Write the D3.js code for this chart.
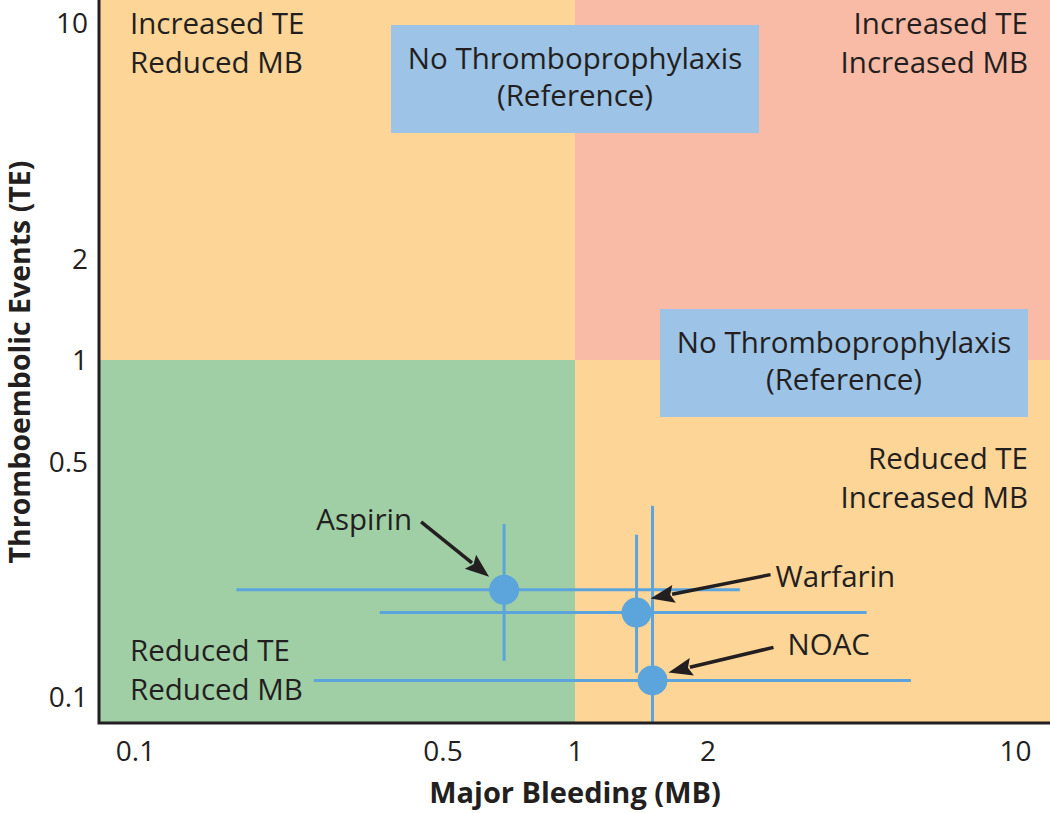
<!DOCTYPE html>
<html>
<head>
<meta charset="utf-8">
<script src="https://cdn.jsdelivr.net/npm/d3@7"></script>
<style>
  html, body { margin: 0; padding: 0; background: #ffffff; }
  svg { display: block; }
  text { font-family: "Open Sans", "Noto Sans", sans-serif; fill: #231f20; }
</style>
</head>
<body>
<div id="chart"></div>
<script>
// ---- data ----
const xTickValues = [0.1, 0.5, 1, 2, 10];
const yTickValues = [0.1, 0.5, 1, 2, 10];
const drugs   = ["Aspirin", "Warfarin", "NOAC"];
const mbEst   = [0.69, 1.38, 1.50];
const mbLow   = [0.17, 0.36, 0.255];
const mbHigh  = [2.37, 4.6, 5.8];
const teEst   = [0.208, 0.178, 0.112];
const teLow   = [0.128, 0.118, 0.07];
const teHigh  = [0.326, 0.303, 0.369];
const quadrantLabels = [
  ["Increased TE", "Reduced MB"],
  ["Increased TE", "Increased MB"],
  ["Reduced TE", "Reduced MB"],
  ["Reduced TE", "Increased MB"]
];
const refLabel = ["No Thromboprophylaxis", "(Reference)"];
const xTitle = "Major Bleeding (MB)";
const yTitle = "Thromboembolic Events (TE)";

// ---- layout ----
const W = 1050, H = 813;
const plot = { left: 99, right: 1050, top: 0, bottom: 723 };

const svg = d3.select("#chart").append("svg")
  .attr("width", W).attr("height", H);

const x = d3.scaleLog().domain([0.1, 10]).range([135, 1015]);
const y = d3.scaleLog().domain([0.1, 10]).range([697, 23]);

const cx = x(1), cy = y(1);

// quadrants
const quads = [
  { x0: plot.left, x1: cx, y0: plot.top, y1: cy, fill: "#fdd597" },
  { x0: cx, x1: plot.right, y0: plot.top, y1: cy, fill: "#f9bba6" },
  { x0: plot.left, x1: cx, y0: cy, y1: plot.bottom, fill: "#a0cfa5" },
  { x0: cx, x1: plot.right, y0: cy, y1: plot.bottom, fill: "#fdd597" }
];
svg.append("g").selectAll("rect").data(quads).join("rect")
  .attr("x", d => d.x0).attr("y", d => d.y0)
  .attr("width", d => d.x1 - d.x0).attr("height", d => d.y1 - d.y0)
  .attr("fill", d => d.fill);

// reference boxes
const boxW = 368, boxH = 108;
const boxes = [
  { x: cx - boxW / 2, y: 25 },
  { x: plot.right - 22 - boxW, y: cy - 51 }
];
const bg = svg.append("g").selectAll("g").data(boxes).join("g")
  .attr("transform", d => `translate(${d.x},${d.y})`);
bg.append("rect").attr("width", boxW).attr("height", boxH).attr("fill", "#9dc3e7");
bg.append("text").attr("text-anchor", "middle").attr("font-size", 29.5)
  .selectAll("tspan").data(refLabel).join("tspan")
  .attr("x", boxW / 2).attr("y", (d, i) => 44 + i * 37).text(d => d);

// quadrant labels
const qFont = 29.5, qLine = 38.5;
const qPos = [
  { x: plot.left + 31, y: 34, anchor: "start" },
  { x: plot.right - 22, y: 34, anchor: "end" },
  { x: plot.left + 31, y: 661, anchor: "start" },
  { x: plot.right - 22, y: 469, anchor: "end" }
];
quadrantLabels.forEach((lines, i) => {
  svg.append("text").attr("text-anchor", qPos[i].anchor).attr("font-size", qFont)
    .selectAll("tspan").data(lines).join("tspan")
    .attr("x", qPos[i].x).attr("y", (d, j) => qPos[i].y + j * qLine).text(d => d);
});

// error bars + points
const clip = svg.append("clipPath").attr("id", "plotclip").append("rect")
  .attr("x", plot.left).attr("y", plot.top)
  .attr("width", plot.right - plot.left).attr("height", plot.bottom - plot.top);
const pts = drugs.map((d, i) => ({
  name: d, mb: mbEst[i], mbL: mbLow[i], mbH: mbHigh[i],
  te: teEst[i], teL: teLow[i], teH: teHigh[i]
}));
const eg = svg.append("g").attr("clip-path", "url(#plotclip)");
const blue = "#5ba5dc";
eg.selectAll("line.h").data(pts).join("line").attr("class", "h")
  .attr("x1", d => x(d.mbL)).attr("x2", d => x(d.mbH))
  .attr("y1", d => y(d.te)).attr("y2", d => y(d.te))
  .attr("stroke", blue).attr("stroke-width", 3);
eg.selectAll("line.v").data(pts).join("line").attr("class", "v")
  .attr("x1", d => x(d.mb)).attr("x2", d => x(d.mb))
  .attr("y1", d => y(d.teL)).attr("y2", d => y(d.teH))
  .attr("stroke", blue).attr("stroke-width", 3);
eg.selectAll("circle").data(pts).join("circle")
  .attr("cx", d => x(d.mb)).attr("cy", d => y(d.te)).attr("r", 15)
  .attr("fill", blue);

// annotations (offsets relative to the point)
const ann = [
  { tip: [-15, -13], tail: [-83, -68], text: [-92, -60], anchor: "end" },
  { tip: [14, -14], tail: [134, -38], text: [139, -26], anchor: "start" },
  { tip: [16, -8], tail: [121, -33], text: [135, -25], anchor: "start" }
];
const ag = svg.append("g");
pts.forEach((p, i) => {
  const a = ann[i];
  const px = x(p.mb), py = y(p.te);
  const tx = px + a.tip[0], ty = py + a.tip[1];
  const sx = px + a.tail[0], sy = py + a.tail[1];
  const dx = tx - sx, dy = ty - sy, L = Math.hypot(dx, dy);
  const ux = dx / L, uy = dy / L;
  const hl = 24, hw = 9;
  const bx = tx - ux * hl, by = ty - uy * hl;
  ag.append("line").attr("x1", sx).attr("y1", sy).attr("x2", bx + ux * 2).attr("y2", by + uy * 2)
    .attr("stroke", "#231f20").attr("stroke-width", 3.5);
  ag.append("path")
    .attr("d", `M${tx},${ty} L${bx - uy * hw},${by + ux * hw} L${bx + ux * 4},${by + uy * 4} L${bx + uy * hw},${by - ux * hw} Z`)
    .attr("fill", "#231f20");
  ag.append("text").attr("x", px + a.text[0]).attr("y", py + a.text[1])
    .attr("text-anchor", a.anchor).attr("font-size", 29.5).text(p.name);
});

// axes
const xAxis = d3.axisBottom(x).tickValues(xTickValues).tickSize(0).tickPadding(0)
  .tickFormat(d3.format("~g"));
const gx = svg.append("g").attr("transform", `translate(0,${plot.bottom})`).call(xAxis);
gx.select(".domain").remove();
gx.selectAll("text").attr("font-size", 28).attr("dy", null).attr("y", 38)
  .attr("font-family", null).attr("fill", null);

const yAxis = d3.axisLeft(y).tickValues(yTickValues).tickSize(0).tickPadding(0)
  .tickFormat(d3.format("~g"));
const gy = svg.append("g").attr("transform", `translate(${plot.left},0)`).call(yAxis);
gy.select(".domain").remove();
gy.selectAll("text").attr("font-size", 28).attr("x", -11).attr("dy", "0.35em")
  .attr("font-family", null).attr("fill", null);

svg.append("path")
  .attr("d", `M${plot.left},${plot.top} V${plot.bottom} H${plot.right}`)
  .attr("fill", "none").attr("stroke", "#231f20").attr("stroke-width", 3);

// titles
svg.append("text").attr("x", cx).attr("y", 803).attr("text-anchor", "middle")
  .attr("font-size", 29).style("font-weight", "bold").text(xTitle);
svg.append("text").attr("transform", `translate(30,${362}) rotate(-90)`)
  .attr("text-anchor", "middle").attr("font-size", 28.5).style("font-weight", "bold").text(yTitle);
</script>
</body>
</html>
